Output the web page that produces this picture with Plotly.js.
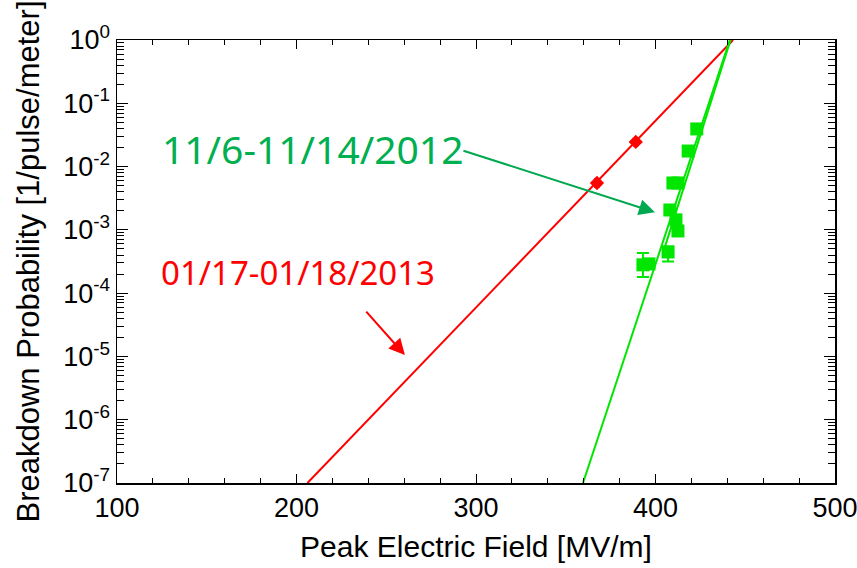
<!DOCTYPE html>
<html>
<head>
<meta charset="utf-8">
<script src="https://cdn.plot.ly/plotly-3.0.1.min.js"></script>
<style>html,body{margin:0;padding:0;background:#fff;}#plot{width:857px;height:568px;}</style>
</head>
<body>
<div id="plot"></div>
<script>
// Green data: 11/6-11/14/2012
const greenX = [393.0, 396.4, 407.0, 408.0, 411.4, 412.5, 409.7, 412.5, 418.2, 423.0];
const greenY = [2.8e-4, 2.9e-4, 4.47e-4, 2.06e-3, 1.44e-3, 9.6e-4, 5.5e-3, 5.5e-3, 0.0176, 0.0393];
const greenErrPlus  = [1.5e-4, 0, 1.0e-4, 0, 0, 0, 0, 0, 0, 0];
const greenErrMinus = [1.0e-4, 0, 1.3e-4, 0, 0, 0, 0, 0, 0, 0];
// Green fit lines
const greenFitX = [359.6, 441.4];
const greenFitY = [1e-7, 1];
const greenFit2X = [405.0, 441.8];
const greenFit2Y = [5.1e-4, 1];
// Red data: 01/17-01/18/2013
const redX = [367.4, 389.0];
const redY = [5.5e-3, 0.0245];
const redFitX = [206.1, 443.2];
const redFitY = [1e-7, 1];
// Axis ticks
const xTicks = [100, 200, 300, 400, 500];
const yTicks = [1e-7, 1e-6, 1e-5, 1e-4, 1e-3, 1e-2, 1e-1, 1];
const yTickText = ["10<sup>-7</sup>", "10<sup>-6</sup>", "10<sup>-5</sup>", "10<sup>-4</sup>",
                   "10<sup>-3</sup>", "10<sup>-2</sup>", "10<sup>-1</sup>", "10<sup>0</sup>"];
const labelGreen = "11/6-11/14/2012";
const labelRed = "01/17-01/18/2013";

// minor tick positions on the log axis (2..9 in each decade)
const yMinor = [];
for (let e = -7; e < 0; e++) for (let m = 2; m <= 9; m++) yMinor.push(m * Math.pow(10, e));

const GREEN = "#00e600";
const RED = "#ff0000";
const TXTGREEN = "#00b050";

const traces = [
  {x: redFitX, y: redFitY, mode: "lines", line: {color: RED, width: 2}, hoverinfo: "skip"},
  {x: greenFitX, y: greenFitY, mode: "lines", line: {color: GREEN, width: 2}, hoverinfo: "skip"},
  {x: greenFit2X, y: greenFit2Y, mode: "lines", line: {color: GREEN, width: 2}, hoverinfo: "skip"},
  {x: redX, y: redY, mode: "markers", marker: {symbol: "diamond", size: 11, color: RED},
   error_y: {type: "data", array: [8e-4, 3e-3], arrayminus: [7e-4, 2.7e-3], color: RED, thickness: 2, width: 3}},
  {x: greenX, y: greenY, mode: "markers", marker: {symbol: "square", size: 13, color: GREEN},
   error_y: {type: "data", array: greenErrPlus, arrayminus: greenErrMinus, color: GREEN, thickness: 2, width: 6}}
];

const tickFamily = "'Liberation Sans', Arial, sans-serif";
const titleFont = {family: "'Liberation Sans', Arial, sans-serif", size: 30, color: "#000"};

const layout = {
  width: 857, height: 568,
  margin: {l: 117, r: 22, t: 40, b: 85},
  paper_bgcolor: "#fff", plot_bgcolor: "#fff",
  showlegend: false,
  xaxis: {
    range: [100, 500], tickmode: "array", tickvals: xTicks, ticktext: xTicks.map(String),
    ticks: "inside", ticklen: 9, tickwidth: 1, tickcolor: "#000",
    minor: {ticks: "inside", ticklen: 5, dtick: 20, tick0: 100, tickcolor: "#000", showgrid: false},
    showline: true, linecolor: "#000", linewidth: 1.5, mirror: "allticks",
    showgrid: false, zeroline: false, ticklabeloverflow: "allow",
    tickfont: {family: tickFamily, size: 27, color: "#000"},
    title: {text: "Peak Electric Field [MV/m]", font: titleFont, standoff: 14}
  },
  yaxis: {
    type: "log", range: [-7, 0], tickmode: "array", tickvals: yTicks, ticktext: yTickText,
    ticks: "inside", ticklen: 11, tickwidth: 1, tickcolor: "#000",
    minor: {ticks: "inside", ticklen: 7, tickmode: "array", tickvals: yMinor, tickcolor: "#000", showgrid: false},
    showline: true, linecolor: "#000", linewidth: 1.5, mirror: "allticks",
    showgrid: false, zeroline: false, ticklabeloverflow: "allow",
    tickfont: {family: tickFamily, size: 27, color: "#000"},
    title: {text: "Breakdown Probability [1/pulse/meter]", font: {family: titleFont.family, size: 31, color: "#000"}, standoff: 14}
  },
  annotations: [
    {xref: "paper", yref: "paper", x: 0.2716, y: 0.7562, xanchor: "center", yanchor: "middle",
     text: labelGreen, showarrow: false,
     font: {family: "'Noto Sans', sans-serif", size: 39, color: TXTGREEN}},
    {xref: "paper", yref: "paper", x: 0.252, y: 0.476, xanchor: "center", yanchor: "middle",
     text: labelRed, showarrow: false,
     font: {family: "'Noto Sans', sans-serif", size: 33, color: RED}},
    {xref: "x", yref: "y", x: 399.7, y: Math.log10(1.9e-3), text: "", showarrow: true,
     ax: -193, ay: -62, arrowcolor: "#00a850", arrowwidth: 2, arrowhead: 2, arrowsize: 1.6},
    {xref: "x", yref: "y", x: 260.4, y: Math.log10(1.05e-5), text: "", showarrow: true,
     ax: -40, ay: -45, arrowcolor: RED, arrowwidth: 2, arrowhead: 2, arrowsize: 1.6}
  ]
};

Plotly.newPlot("plot", traces, layout, {displayModeBar: false, staticPlot: true});
</script>
</body>
</html>
